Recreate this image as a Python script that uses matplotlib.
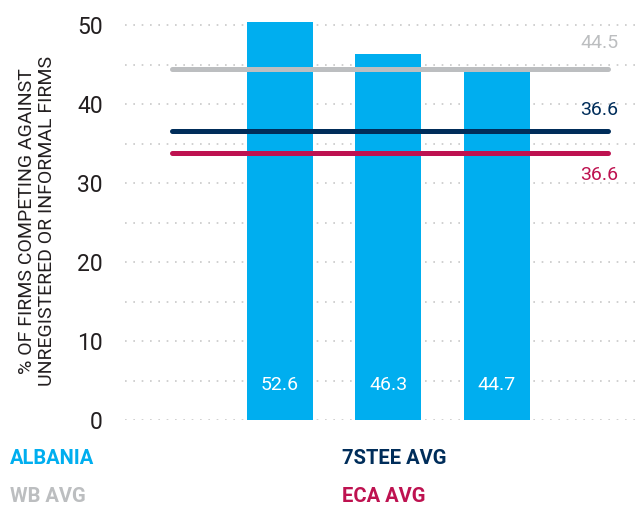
import matplotlib.pyplot as plt
from matplotlib import font_manager

names = {f.name for f in font_manager.fontManager.ttflist}
FONT = ['Liberation Sans Narrow', 'Roboto', 'DejaVu Sans']
FONT = [f for f in FONT if f in names] or ['DejaVu Sans']
plt.rcParams['font.family'] = FONT

groups = ['Albania', '7STEE avg', 'ECA avg']
bar_values = [52.6, 46.3, 44.7]
bar_labels = ['52.6', '46.3', '44.7']

ref_names = ['WB AVG', '7STEE AVG', 'ECA AVG']
ref_values = [44.5, 36.6, 33.8]
ref_labels = ['44.5', '36.6', '36.6']
ref_label_y = [47.8, 39.3, 31.0]

BLUE = '#00AEEF'
GRAY = '#BCBEC0'
NAVY = '#002D5A'
RED = '#BE1250'
ref_colors = [GRAY, NAVY, RED]

fig = plt.figure(figsize=(6.41, 5.08), dpi=100)
ax = fig.add_axes([125 / 641, 88 / 508, 516 / 641, 398 / 508])

x = list(range(len(groups)))
ax.bar(x, bar_values, width=0.61, color=BLUE, zorder=2)
for xi, lab in zip(x, bar_labels):
    ax.text(xi, 4.4, lab, ha='center', va='center', color='white', fontsize=14, zorder=4)

for val, lab, ly, c in zip(ref_values, ref_labels, ref_label_y, ref_colors):
    ax.plot([-1.0, 3.03], [val, val], color=c, lw=3.6, solid_capstyle='round', zorder=3)
    ax.text(3.12, ly, lab, ha='right', va='center', color=c, fontsize=14)

ax.set_xlim(-1.43, 3.33)
ax.set_ylim(0, 50.4)
ax.set_yticks(range(0, 51, 10))
ax.set_yticks(range(0, 51, 5), minor=True)
ax.tick_params(axis='y', which='both', length=0, labelsize=16.5, colors='#231F20', pad=16)
ax.set_xticks([])
ax.grid(axis='y', which='both', color='#C8C8C8', linestyle=(0, (1, 4)), lw=1.2, zorder=0)
for s in ax.spines.values():
    s.set_visible(False)

fig.text(0.058, 0.565, '% OF FIRMS COMPETING AGAINST\nUNREGISTERED OR INFORMAL FIRMS',
         rotation=90, ha='center', va='center', fontsize=14, color='#231F20', linespacing=1.1)

legend_pos = [(10, 458), (10, 497), (342, 458), (342, 497)]
legend_text = ['ALBANIA'] + [ref_names[0], ref_names[1], ref_names[2]]
legend_colors = [BLUE, GRAY, NAVY, RED]
for (px, py), t, c in zip(legend_pos, legend_text, legend_colors):
    fig.text(px / 641, 1 - py / 508, t, ha='left', va='center', fontsize=14.5,
             fontweight='bold', color=c)

fig.savefig('out.png', dpi=100)
